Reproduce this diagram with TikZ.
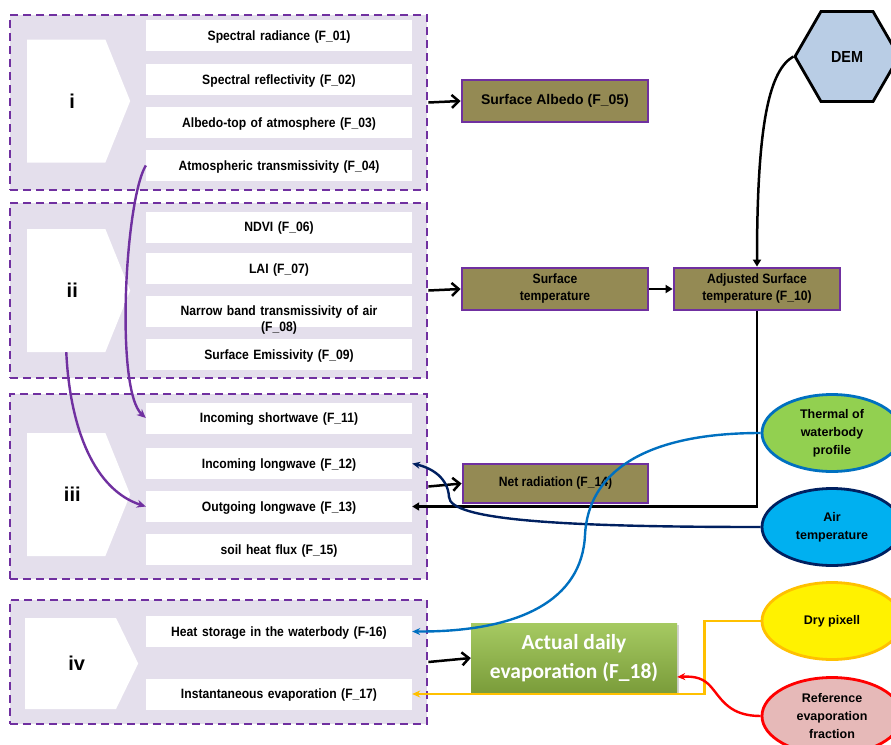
\documentclass[tikz,border=0pt]{standalone}
\usepackage{fontspec}
\setmainfont{Liberation Sans}
\newfontfamily\narrowfont{Liberation Sans}[FakeStretch=0.9]
\newfontfamily\calibrifont{Carlito}
\usetikzlibrary{arrows.meta,shapes.geometric,shapes.symbols,shadows}

\definecolor{boxpurple}{HTML}{7030A0}
\definecolor{grouplav}{HTML}{E4DFEC}
\definecolor{olivebox}{HTML}{948A54}
\definecolor{demblue}{HTML}{B9CDE5}
\definecolor{thermgreen}{HTML}{92D050}
\definecolor{waterblue}{HTML}{0070C0}
\definecolor{airblue}{HTML}{00B0F0}
\definecolor{navyline}{HTML}{002060}
\definecolor{dryorange}{HTML}{FFC000}
\definecolor{refpink}{HTML}{E6B9B8}
\definecolor{evaptop}{HTML}{A6CA62}
\definecolor{evapbottom}{HTML}{7A9C3A}

\tikzset{
  group/.style={draw=boxpurple, fill=grouplav, line width=2.8pt, dash pattern=on 8pt off 5pt, minimum width=417pt, inner sep=0pt},
  chevron/.style={shape=signal, signal to=east, fill=white, inner sep=0pt, anchor=west,
                  execute at begin node=\hspace*{12pt}, font=\bfseries\fontsize{20}{24}\selectfont},
  row/.style={fill=white, minimum width=266pt, minimum height=31pt, inner sep=0pt, text width=258pt, text depth=0pt, align=center, font=\narrowfont\bfseries\fontsize{13.5}{16}\selectfont},
  result/.style={draw=boxpurple, fill=olivebox, line width=2.8pt, minimum height=42pt, inner sep=0pt, align=center, font=\narrowfont\bfseries\fontsize{13.5}{17}\selectfont},
  source/.style={ellipse, line width=2.8pt, minimum width=140pt, minimum height=77pt, inner sep=0pt, align=center, font=\bfseries\fontsize{12.5}{18}\selectfont},
  flow/.style={line width=2.5pt, -{Straight Barb[length=7pt,width=13pt]}},
  feed/.style={line width=2.5pt, -{Triangle[length=7pt,width=8pt]}},
  purpleflow/.style={draw=boxpurple, line width=2.4pt, -{Stealth[length=9pt,width=8pt]}},
}

\begin{document}
\begin{tikzpicture}[x=1pt, y=-1pt]
        \useasboundingbox (0,0) rectangle (891,744);

        % groups
        \node[group, minimum height=175pt] (gi) at (218.5,102.5) {};
        \node[group, minimum height=175pt] (gii) at (218.5,290.5) {};
        \node[group, minimum height=185pt] (giii) at (218.5,486.5) {};
        \node[group, minimum height=124pt] (giv) at (218.5,662) {};

        \node[chevron, minimum width=103pt, minimum height=123pt, signal pointer angle=136] (ci) at (27,101) {i};
        \node[chevron, minimum width=103pt, minimum height=123pt, signal pointer angle=136] (cii) at (27,290.5) {ii};
        \node[chevron, minimum width=103pt, minimum height=123pt, signal pointer angle=136] (ciii) at (27,494.5) {iii};
        \node[chevron, minimum width=113pt, minimum height=91pt, signal pointer angle=128] (civ) at (25,663.5) {iv};

        % group i
        \node[row] (f01) at (279,35.5) {Spectral radiance (F\_01)};
        \node[row] (f02) at (279,79.5) {Spectral reflectivity (F\_02)};
        \node[row] (f03) at (279,122.5) {Albedo-top of atmosphere (F\_03)};
        \node[row] (f04) at (279,165.5) {Atmospheric transmissivity (F\_04)};
        % group ii
        \node[row] (f06) at (279,227) {NDVI (F\_06)};
        \node[row] (f07) at (279,268.5) {LAI (F\_07)};
        \node[row, text depth=2pt] (f08) at (279,311.5) {Narrow band transmissivity of air\\(F\_08)};
        \node[row] (f09) at (279,354.5) {Surface Emissivity (F\_09)};
        % group iii
        \node[row] (f11) at (279,418) {Incoming shortwave (F\_11)};
        \node[row] (f12) at (279,463.5) {Incoming longwave (F\_12)};
        \node[row] (f13) at (279,506.5) {Outgoing longwave (F\_13)};
        \node[row] (f15) at (279,549.5) {soil heat flux (F\_15)};
        % group iv
        \node[row] (f16) at (279,631.5) {Heat storage in the waterbody (F-16)};
        \node[row] (f17) at (279,694) {Instantaneous evaporation (F\_17)};

        % results
        \node[result, minimum width=186pt, font=\bfseries\fontsize{14}{17}\selectfont] (f05) at (555,101) {Surface Albedo (F\_05)};
        \node[result, minimum width=186pt] (tsurf) at (555,289) {Surface\\temperature};
        \node[result, minimum width=166pt] (f10) at (757,289) {Adjusted Surface\\temperature (F\_10)};
        \node[result, minimum width=185pt, minimum height=39pt] (f14) at (555.5,483.5) {Net radiation (F\_14)};
        \node[top color=evaptop, bottom color=evapbottom,
              drop shadow={shadow xshift=2pt, shadow yshift=-2pt, opacity=0.35},
              minimum width=206pt, minimum height=70pt, align=center, text=white,
              font=\calibrifont\bfseries\fontsize{21.5}{29}\selectfont] (f18) at (574,658) {Actual daily\\evaporation (F\_18)};

        % inputs
        \node[regular polygon, regular polygon sides=6, minimum size=104pt, inner sep=0pt, draw, line width=2.8pt, fill=demblue,
              font=\narrowfont\bfseries\fontsize{16}{18}\selectfont] (dem) at (847,56.5) {DEM};
        \node[source, fill=thermgreen, draw=waterblue] (thermal) at (832,433) {Thermal of\\waterbody\\profile};
        \node[source, fill=airblue, draw=navyline] (air) at (832,527) {Air\\temperature};
        \node[source, fill=yellow, draw=dryorange] (dry) at (832,621) {Dry pixell};
        \node[source, fill=refpink, draw=red] (refef) at (832,716) {Reference\\evaporation\\fraction};

        % connectors
        \draw[flow] (gi.east) -- (f05.west);
        \draw[flow] (gii.east) -- (tsurf.west);
        \draw[flow] (giii.east) -- (f14.west);
        \draw[flow] (giv.east) -- (f18.west);
        \draw[feed] (tsurf) -- (f10);
        \draw[feed] (dem.west) .. controls (770,70) and (757,120) .. (f10.north);
        \draw[feed] (f10.south) |- (f13.east);

        \draw[purpleflow] (f04.west) .. controls (125,200) and (115,390) .. (f11.west);
        \draw[purpleflow] (cii.south) .. controls (70,430) and (95,490) .. (f13.west);

        \draw[navyline, line width=2.4pt, -{Stealth[length=8pt,width=7pt]}] (air.west) .. controls (560,527) and (450,520) .. (449,497)
              .. controls (448,478) and (432,468) .. (f12.east);
        \draw[waterblue, line width=2.4pt, -{Stealth[length=8pt,width=7pt]}] (thermal.west) .. controls (640,433) and (588,475) .. (585,535)
              .. controls (582,600) and (520,632) .. (f16.east);
        \draw[dryorange, line width=2.4pt, -{Stealth[length=8pt,width=7pt]}] (dry.west) -- ++(-56,0) |- (f17.east);
        \draw[red, line width=2.4pt, -{Stealth[length=8pt,width=7pt]}] (refef.west) .. controls (730,716) and (722,700) .. (712,688)
              .. controls (704,678) and (695,676) .. ([yshift=-19pt]f18.east);
    \end{tikzpicture}
\end{document}
